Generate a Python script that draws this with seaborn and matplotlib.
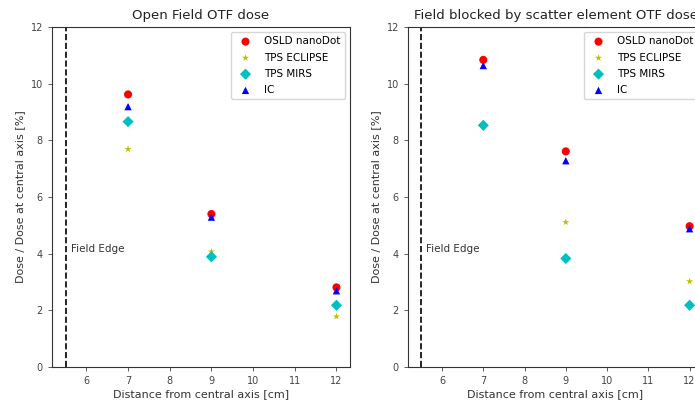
#!/usr/bin/env python3

import numpy as np
import pandas as pd
import matplotlib
matplotlib.use("Agg")
import matplotlib.pyplot as plt
import seaborn as sns

distance = [7, 9, 12]
series = ["OSLD nanoDot", "TPS ECLIPSE", "TPS MIRS", "IC"]

open_osld = [9.62, 5.40, 2.81]
open_eclipse = [7.69, 4.07, 1.78]
open_mirs = [8.66, 3.89, 2.18]
open_ic = [9.19, 5.29, 2.69]

blocked_osld = [10.84, 7.61, 4.97]
blocked_eclipse = [8.53, 5.11, 3.02]
blocked_mirs = [8.53, 3.83, 2.18]
blocked_ic = [10.64, 7.28, 4.88]

titles = ["Open Field OTF dose", "Field blocked by scatter element OTF dose"]
field_edge = 5.5

styles = {
    "OSLD nanoDot": dict(marker="o", color="red", s=34),
    "TPS ECLIPSE": dict(marker="*", color="y", s=28),
    "TPS MIRS": dict(marker="D", color="c", s=32),
    "IC": dict(marker="^", color="b", s=28),
}

def make_df(osld, eclipse, mirs, ic):
    vals = {"OSLD nanoDot": osld, "TPS ECLIPSE": eclipse,
            "TPS MIRS": mirs, "IC": ic}
    rows = []
    for name in series:
        for d, v in zip(distance, vals[name]):
            rows.append({"series": name, "distance": d, "dose": v})
    return pd.DataFrame(rows)

panels = [
    make_df(open_osld, open_eclipse, open_mirs, open_ic),
    make_df(blocked_osld, blocked_eclipse, blocked_mirs, blocked_ic),
]

plt.rcParams["font.family"] = ["DejaVu Sans"]
fig = plt.figure(figsize=(6.95, 4.05), dpi=100)
W, H = 695, 405
boxes = [(52, 350), (408, 703)]
top, bottom = 27, 367

for (x0, x1), df, title in zip(boxes, panels, titles):
    ax = fig.add_axes([x0 / W, 1 - bottom / H, (x1 - x0) / W, (bottom - top) / H])
    for name in series:
        sub = df[df["series"] == name]
        st = styles[name]
        sns.scatterplot(data=sub, x="distance", y="dose", ax=ax,
                        marker=st["marker"], color=st["color"], s=st["s"],
                        edgecolor="none", label=name)
    ax.axvline(field_edge, color="black", ls="--", lw=1.2)
    ax.text(field_edge + 0.12, 4.15, "Field Edge", fontsize=7.5,
            va="center", ha="left", color="#333333")
    ax.set_xlim(5.175, 12.325)
    ax.set_ylim(0, 12)
    ax.set_xticks(range(6, 13))
    ax.set_yticks(range(0, 13, 2))
    ax.tick_params(labelsize=7, length=3, width=0.6, colors="#444444")
    for sp in ax.spines.values():
        sp.set_linewidth(0.8)
        sp.set_color("#333333")
    ax.set_xlabel("Distance from central axis [cm]", fontsize=8, labelpad=2,
                  color="#333333")
    ax.set_ylabel("Dose / Dose at central axis [%]", fontsize=8, labelpad=4,
                  color="#333333")
    ax.set_title(title, fontsize=9.5, pad=6, color="#222222")
    ax.legend(loc="upper right", fontsize=7.5, frameon=True,
              labelspacing=0.6)

fig.savefig("out.png", dpi=100)
